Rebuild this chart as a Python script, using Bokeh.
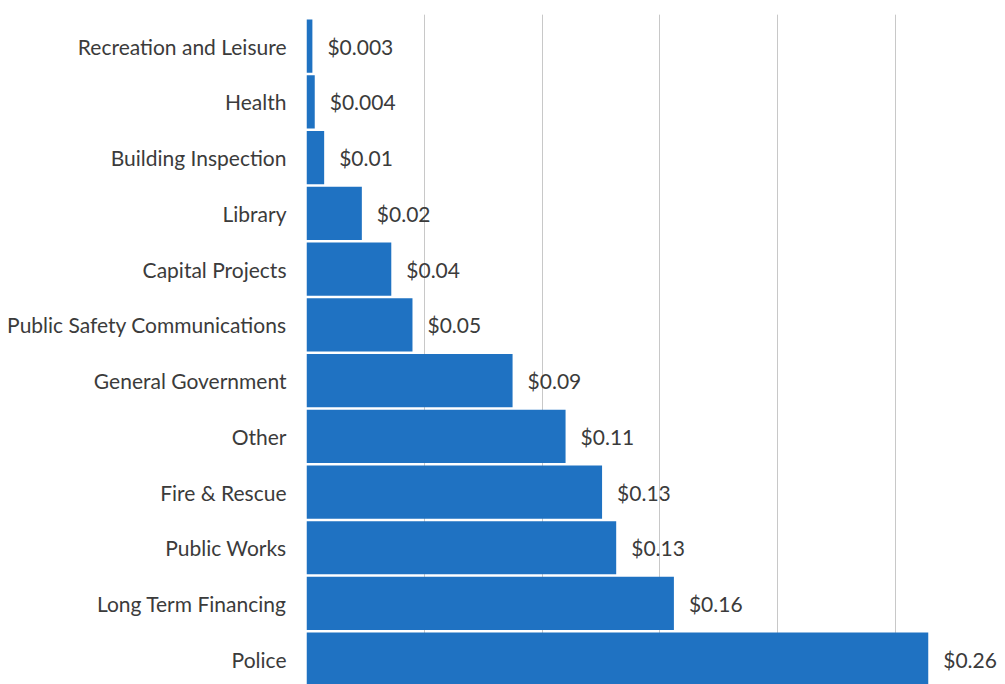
from bokeh.plotting import figure
from bokeh.models import ColumnDataSource, Range1d, FixedTicker, Grid
from bokeh.embed import file_html
from bokeh.resources import INLINE
from bokeh.core.properties import value

categories = ["Recreation and Leisure", "Health", "Building Inspection", "Library",
              "Capital Projects", "Public Safety Communications", "General Government",
              "Other", "Fire & Rescue", "Public Works", "Long Term Financing", "Police"]
amounts = [0.0025, 0.0035, 0.0075, 0.0235, 0.036, 0.045, 0.0875, 0.110, 0.1255, 0.1315, 0.156, 0.264]
labels = ["$0.003", "$0.004", "$0.01", "$0.02", "$0.04", "$0.05", "$0.09", "$0.11",
          "$0.13", "$0.13", "$0.16", "$0.26"]
grid_ticks = [0.05, 0.10, 0.15, 0.20, 0.25]

n = len(categories)
ypos = [n - 1 - i for i in range(n)]
src = ColumnDataSource(dict(y=ypos, amt=amounts, lab=labels, cat=categories))

FONT = "Lato"
TXT = "#3b3b3b"
BAR = "#1f72c2"

p = figure(width=1005, height=684, output_backend="svg", toolbar_location=None,
           x_range=Range1d(0, 0.2968), y_range=Range1d(-0.454, 11.569),
           x_axis_location=None, y_axis_location="left",
           min_border_left=306, min_border_top=14, min_border_bottom=0, min_border_right=0,
           outline_line_color=None, background_fill_color="white", border_fill_color="white")

p.add_layout(Grid(dimension=0, ticker=FixedTicker(ticks=grid_ticks),
                  grid_line_color="#c8c8c8", grid_line_width=1))
p.ygrid.visible = False

p.hbar(y="y", right="amt", left=0, height=0.955, source=src, fill_color=BAR, line_color=None)
p.text(x="amt", y="y", text="lab", source=src, x_offset=15, text_align="left",
       text_baseline="middle", text_font=value(FONT), text_font_size="21px", text_color=TXT)

ax = p.yaxis[0]
ax.ticker = FixedTicker(ticks=ypos)
ax.major_label_overrides = {y: c for y, c in zip(ypos, categories)}
ax.axis_line_color = None
ax.major_tick_line_color = None
ax.minor_tick_line_color = None
ax.major_tick_out = 0
ax.major_tick_in = 0
ax.major_label_standoff = 20
ax.major_label_text_font = FONT
ax.major_label_text_font_size = "21px"
ax.major_label_text_color = TXT

open("out.html", "w").write(file_html(p, INLINE))
